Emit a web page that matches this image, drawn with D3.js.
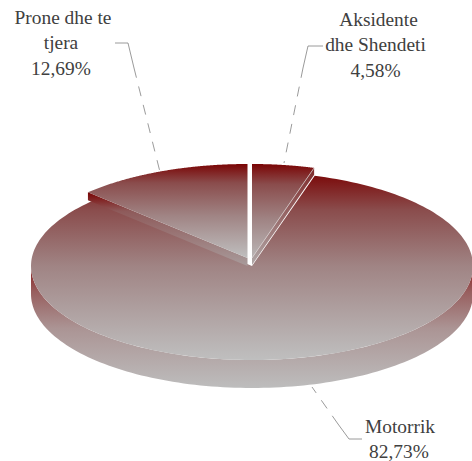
<!DOCTYPE html>
<html><head><meta charset="utf-8">
<script src="https://cdn.jsdelivr.net/npm/d3@7"></script>
<style>html,body{margin:0;padding:0;background:#fff}svg{display:block}</style></head>
<body><div id="c"></div>
<script>
const categories = ["Aksidente dhe Shendeti", "Motorrik", "Prone dhe te tjera"];
const values = [4.58, 82.73, 12.69];
const labelLines = [["Aksidente", "dhe Shendeti", "4,58%"], ["Motorrik", "82,73%"], ["Prone dhe te", "tjera", "12,69%"]];

const W = 472, H = 461, ry = 94;
const svg = d3.select("#c").append("svg").attr("width", W).attr("height", H);
const defs = svg.append("defs");
function grad(id, y1, y2, stops) {
  const g = defs.append("linearGradient").attr("id", id).attr("gradientUnits", "userSpaceOnUse")
    .attr("x1", 0).attr("x2", 0).attr("y1", y1).attr("y2", y2);
  stops.forEach(s => g.append("stop").attr("offset", s[0]).attr("stop-color", s[1]));
}
const topStops = [[0, "#7a0505"], [0.2, "#8a4c4c"], [0.55, "#a08484"], [1, "#bfbfbf"]];
grad("gMain", 172, 360, [[0, "#7a0505"], [0.2, "#8a4c4c"], [0.5, "#a08484"], [1, "#bfbfbf"]]);
grad("gA", 164, 265, topStops);
grad("gP", 164, 258, topStops);
grad("gMainSide", 268, 388, [[0, "#8a2020"], [0.2, "#985f5f"], [0.5, "#ab9494"], [1, "#bdbdbd"]]);
grad("gPSide", 193, 265, [[0, "#7a0505"], [0.25, "#8e5a5a"], [1, "#a89a9a"]]);
grad("gASide", 168, 265, [[0, "#7f2a2a"], [1, "#b0a8a8"]]);

const pie = d3.pie().sort(null).value(d => d);
const arcs = pie(values);
const layout = [
  {cx: 252, cy: 258, rx: 219, depth: 7, top: "gA", side: "gASide"},
  {cx: 252, cy: 266, rx: 221, depth: 28, top: "gMain", side: "gMainSide"},
  {cx: 247.5, cy: 258, rx: 223, depth: 8, top: "gP", side: "gPSide"}
];
const pt = (l, a) => [l.cx + l.rx * Math.sin(a), l.cy - ry * Math.cos(a)];

function wall(l, a0, a1) {
  const n = 120, up = d3.range(n + 1).map(i => pt(l, a0 + (a1 - a0) * i / n));
  const down = up.slice().reverse().map(p => [p[0], p[1] + l.depth]);
  return d3.line()(up.concat(down)) + "Z";
}
function cutWall(l, a) {
  const e = pt(l, a), c = [l.cx, l.cy];
  return d3.line()([c, e, [e[0], e[1] + l.depth], [c[0], c[1] + l.depth]]) + "Z";
}
function drawTopFlat(i) {
  const l = layout[i], a = arcs[i], n = 200;
  const pts = [[l.cx, l.cy]].concat(d3.range(n + 1).map(k => pt(l, a.startAngle + (a.endAngle - a.startAngle) * k / n)));
  svg.append("path").attr("d", d3.line()(pts) + "Z").attr("fill", `url(#${l.top})`);
}
// Motorrik
svg.append("path").attr("d", wall(layout[1], Math.PI / 2, Math.PI * 1.5)).attr("fill", "url(#gMainSide)");
drawTopFlat(1);
// Prone dhe te tjera
svg.append("path").attr("d", cutWall(layout[2], arcs[2].startAngle)).attr("fill", "url(#gPSide)");
drawTopFlat(2);
// Aksidente dhe Shendeti
svg.append("path").attr("d", cutWall(layout[0], arcs[0].endAngle)).attr("fill", "url(#gASide)");
drawTopFlat(0);
const ae = pt(layout[0], arcs[0].endAngle);
svg.append("line").attr("x1", layout[0].cx).attr("y1", layout[0].cy).attr("x2", ae[0]).attr("y2", ae[1])
  .attr("stroke", "#d8d0d0").attr("stroke-width", 0.7);

// leaders
const leaders = [
  {solid: [[323, 46], [308, 46], [303, 68]], dash: [[303, 68], [284, 163]]},
  {solid: [[362, 439], [349, 439], [338, 424]], dash: [[338, 424], [312, 387]]},
  {solid: [[115, 43], [128, 43], [134, 68]], dash: [[134, 68], [160, 172]]}
];
leaders.forEach(s => {
  svg.append("path").attr("d", d3.line()(s.solid)).attr("fill", "none").attr("stroke", "#808080").attr("stroke-width", 0.8);
  svg.append("path").attr("d", d3.line()(s.dash)).attr("fill", "none").attr("stroke", "#808080").attr("stroke-width", 0.8).attr("stroke-dasharray", "10,9");
});

// labels
const labelX = [[378.5, 375.5, 375.5], [400, 399], [63, 61, 61]];
const labelY = [26, 433, 24];
labelLines.forEach((lines, i) => {
  const t = svg.append("text").attr("text-anchor", "middle")
    .attr("font-family", "'Liberation Serif'").attr("font-size", 19.4).attr("fill", "#404040");
  lines.forEach((s, k) => t.append("tspan").attr("x", labelX[i][k]).attr("y", labelY[i] + k * 25.3).text(s));
});
</script></body></html>
